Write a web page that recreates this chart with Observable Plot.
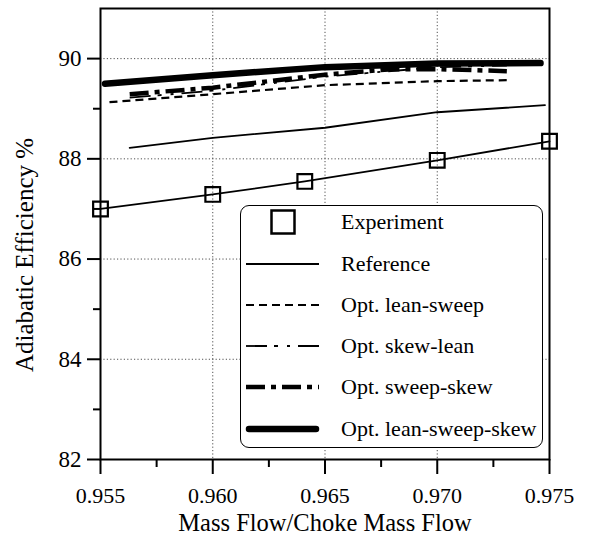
<!DOCTYPE html>
<html>
<head>
<meta charset="utf-8">
<script src="https://cdn.jsdelivr.net/npm/d3@7"></script>
<script src="https://cdn.jsdelivr.net/npm/@observablehq/plot@0.6"></script>
<style>
  html, body { margin: 0; padding: 0; background: white; }
  #wrap { position: relative; width: 590px; height: 536px; }
  #chart svg text { font-family: "Liberation Serif", "DejaVu Serif", serif; }
  #legend {
    position: absolute; left: 240px; top: 205px; width: 303px; height: 243px;
    box-sizing: border-box; border: 1.5px solid black; border-radius: 9px; background: white;
    font-family: "Liberation Serif", "DejaVu Serif", serif; font-size: 22px; color: black;
  }
  .row { position: absolute; left: 0; height: 30px; display: flex; align-items: center; }
  .row svg { margin-left: 4px; }
  .row span { position: absolute; left: 100px; white-space: nowrap; }
</style>
</head>
<body>
<div id="wrap"><div id="chart"></div><div id="legend"></div></div>
<script>
// ---- data ----
const xTitle = "Mass Flow/Choke Mass Flow";
const yTitle = "Adiabatic Efficiency %";

const xMajorTicks = [0.955, 0.960, 0.965, 0.970, 0.975];
const xMinorTicks = [0.9575, 0.9625, 0.9675, 0.9725];
const yMajorTicks = [82, 84, 86, 88, 90];
const yMinorTicks = [83, 85, 87, 89];
const xGridTicks = [0.960, 0.965, 0.970];
const yGridTicks = [84, 86, 88, 90];

const seriesNames = ["Experiment", "Reference", "Opt. lean-sweep", "Opt. skew-lean", "Opt. sweep-skew", "Opt. lean-sweep-skew"];

const experimentX = [0.955, 0.960, 0.9641, 0.970, 0.975];
const experimentY = [87.00, 87.29, 87.55, 87.97, 88.35];

const referenceX = [0.9563, 0.960, 0.965, 0.970, 0.9748];
const referenceY = [88.22, 88.42, 88.62, 88.93, 89.07];

const leanSweepX = [0.9554, 0.960, 0.965, 0.970, 0.9731];
const leanSweepY = [89.13, 89.29, 89.47, 89.55, 89.57];

const skewLeanX = [0.9563, 0.960, 0.965, 0.970, 0.9731];
const skewLeanY = [89.22, 89.36, 89.64, 89.83, 89.86];

const sweepSkewX = [0.9563, 0.960, 0.9625, 0.965, 0.968, 0.970, 0.9731];
const sweepSkewY = [89.29, 89.42, 89.55, 89.68, 89.79, 89.79, 89.75];

const leanSweepSkewX = [0.9552, 0.960, 0.965, 0.970, 0.9746];
const leanSweepSkewY = [89.50, 89.67, 89.83, 89.90, 89.91];

// ---- styles per series ----
const styles = {
  "Reference": {strokeWidth: 1.8},
  "Opt. lean-sweep": {strokeWidth: 2.2, strokeDasharray: "8,5", strokeLinecap: "butt"},
  "Opt. skew-lean": {strokeWidth: 1.8, strokeDasharray: "21,7,4,9,3,8", strokeLinecap: "butt"},
  "Opt. sweep-skew": {strokeWidth: 4.5, strokeDasharray: "19,6,5,6", strokeLinecap: "butt"},
  "Opt. lean-sweep-skew": {strokeWidth: 6.5, strokeLinecap: "round"}
};

const pts = (xs, ys) => xs.map((x, i) => ({x, y: ys[i]}));
const lineMark = (xs, ys, name) => Plot.line(pts(xs, ys), {x: "x", y: "y", stroke: "black", ...styles[name]});

const serif = "'Liberation Serif', 'DejaVu Serif', serif";

const chart = Plot.plot({
  width: 590,
  height: 536,
  marginLeft: 100,
  marginRight: 41,
  marginTop: 8,
  marginBottom: 77,
  x: {domain: [0.955, 0.975]},
  y: {domain: [82, 91]},
  style: {fontFamily: serif, fontSize: "22px", background: "white", color: "black"},
  marks: [
    Plot.gridX(xGridTicks, {stroke: "#333", strokeOpacity: 0.85, strokeDasharray: "1.2,2.2", strokeWidth: 1}),
    Plot.gridY(yGridTicks, {stroke: "#333", strokeOpacity: 0.85, strokeDasharray: "1.2,2.2", strokeWidth: 1}),
    lineMark(leanSweepSkewX, leanSweepSkewY, "Opt. lean-sweep-skew"),
    lineMark(sweepSkewX, sweepSkewY, "Opt. sweep-skew"),
    lineMark(skewLeanX, skewLeanY, "Opt. skew-lean"),
    lineMark(leanSweepX, leanSweepY, "Opt. lean-sweep"),
    lineMark(referenceX, referenceY, "Reference"),
    Plot.line(pts(experimentX, experimentY), {x: "x", y: "y", stroke: "black", strokeWidth: 1.8}),
    Plot.dot(pts(experimentX, experimentY), {x: "x", y: "y", symbol: "square", r: 8.3, stroke: "black", strokeWidth: 2.2, fill: "none"}),
    Plot.axisX(xMajorTicks, {tickSize: 15, tickPadding: 13, tickFormat: d3.format(".3f"), strokeWidth: 2, label: null, fontSize: 22}),
    Plot.axisX(xMinorTicks, {tickSize: 8, tickFormat: () => "", strokeWidth: 2, label: null}),
    Plot.axisY(yMajorTicks, {tickSize: 13, tickPadding: 6, tickFormat: d3.format("d"), strokeWidth: 2, label: null, fontSize: 23}),
    Plot.axisY(yMinorTicks, {tickSize: 7, tickFormat: () => "", strokeWidth: 2, label: null}),
    Plot.frame({stroke: "black", strokeWidth: 2}),
    Plot.text([xTitle], {frameAnchor: "bottom", dy: 71, lineAnchor: "bottom", textAnchor: "middle", fontSize: 24.5, text: d => d}),
    Plot.text([yTitle], {frameAnchor: "left", rotate: -90, dx: -67.5, dy: 21, lineAnchor: "bottom", textAnchor: "middle", fontSize: 25, text: d => d, letterSpacing: "2.4px"})
  ]
});
document.getElementById("chart").appendChild(chart);

// ---- legend (HTML) ----
const legend = document.getElementById("legend");
const ns = "http://www.w3.org/2000/svg";
seriesNames.forEach((name, i) => {
  const row = document.createElement("div");
  row.className = "row";
  row.style.top = (17.7 + 41.3 * i - 15 - 1.5) + "px";
  const svg = document.createElementNS(ns, "svg");
  svg.setAttribute("width", 76);
  svg.setAttribute("height", 30);
  if (name === "Experiment") {
    const r = document.createElementNS(ns, "rect");
    r.setAttribute("x", 26.5); r.setAttribute("y", 3.5);
    r.setAttribute("width", 23); r.setAttribute("height", 23);
    r.setAttribute("fill", "none"); r.setAttribute("stroke", "black"); r.setAttribute("stroke-width", 2.5);
    svg.appendChild(r);
  } else {
    const s = styles[name];
    const l = document.createElementNS(ns, "line");
    const inset = s.strokeLinecap === "round" ? 3 : 0;
    l.setAttribute("x1", 1 + inset); l.setAttribute("x2", 74 - inset);
    l.setAttribute("y1", 15); l.setAttribute("y2", 15);
    l.setAttribute("stroke", "black");
    l.setAttribute("stroke-width", s.strokeWidth);
    if (s.strokeDasharray) l.setAttribute("stroke-dasharray", s.strokeDasharray);
    l.setAttribute("stroke-linecap", s.strokeLinecap || "butt");
    svg.appendChild(l);
  }
  row.appendChild(svg);
  const span = document.createElement("span");
  span.textContent = name;
  row.appendChild(span);
  legend.appendChild(row);
});
</script>
</body>
</html>
